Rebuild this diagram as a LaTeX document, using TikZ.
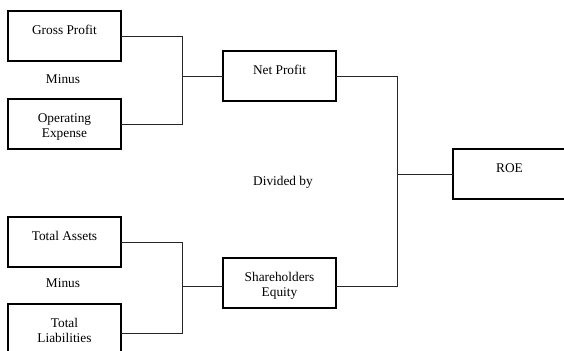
\documentclass[tikz,border=0pt]{standalone}
\usepackage{fontspec}
\setmainfont{Liberation Serif}
\usetikzlibrary{calc}
\begin{document}
\begin{tikzpicture}[x=0.75pt,y=-0.75pt,
  box/.style={draw=black,line width=1.1pt,minimum width=113*0.75pt,minimum height=50*0.75pt,inner sep=0pt,outer sep=0pt,anchor=north west},
  wire/.style={draw=black!85,line width=0.7pt},
  lbl/.style={font=\fontsize{10}{11.5}\selectfont,inner sep=0pt,align=center},
  boxtext/.style={lbl,anchor=north}]
\useasboundingbox (0,0) rectangle (564,350);
\clip (0,0) rectangle (564,350);
% boxes
\node[box] (gp) at (8,11) {};
\node[box] (oe) at (8,99) {};
\node[box] (ta) at (8,217) {};
\node[box,minimum height=58*0.75pt] (tl) at (8,304) {};
\node[box] (np) at (223,51) {};
\node[box] (se) at (223,258) {};
\node[box] (roe) at (453,149) {};
% box texts
\node[boxtext] (gpt) at ($(gp.north)+(0,14)$) {Gross Profit};
\node[boxtext] (oet) at ($(oe.north)+(0,14)$) {Operating\\Expense};
\node[boxtext] (tat) at ($(ta.north)+(0,14)$) {Total Assets};
\node[boxtext] (tlt) at ($(tl.north)+(0,14)$) {Total\\Liabilities};
\node[boxtext] (npt) at ($(np.north)+(0,14)$) {Net Profit};
\node[boxtext] (set) at ($(se.north)+(0,14)$) {Shareholders\\Equity};
\node[boxtext] (roet) at ($(roe.north)+(0,14)$) {ROE};
% free labels
\node[lbl,anchor=base] (m1) at (63,83.5) {Minus};
\node[lbl,anchor=base] (m2) at (63,287.5) {Minus};
\node[lbl,anchor=base] (div) at (283,185.5) {Divided by};
% junction columns
\coordinate (j1) at (182,0);
\coordinate (j2) at (397,0);
\coordinate (sein) at ($(se.west)+(0,3.5)$);
\coordinate (seout) at ($(se.east)+(0,3.5)$);
% connectors
\draw[wire] (gp.east) -- (gp.east -| j1) -- (oe.east -| j1) -- (oe.east);
\draw[wire] (np.west -| j1) -- (np.west);
\draw[wire] (ta.east) -- (ta.east -| j1) -- (tl.east -| j1) -- (tl.east);
\draw[wire] (sein -| j1) -- (sein);
\draw[wire] (np.east) -- (np.east -| j2) -- (seout -| j2) -- (seout);
\draw[wire] (roe.west -| j2) -- (roe.west);
\end{tikzpicture}
\end{document}
